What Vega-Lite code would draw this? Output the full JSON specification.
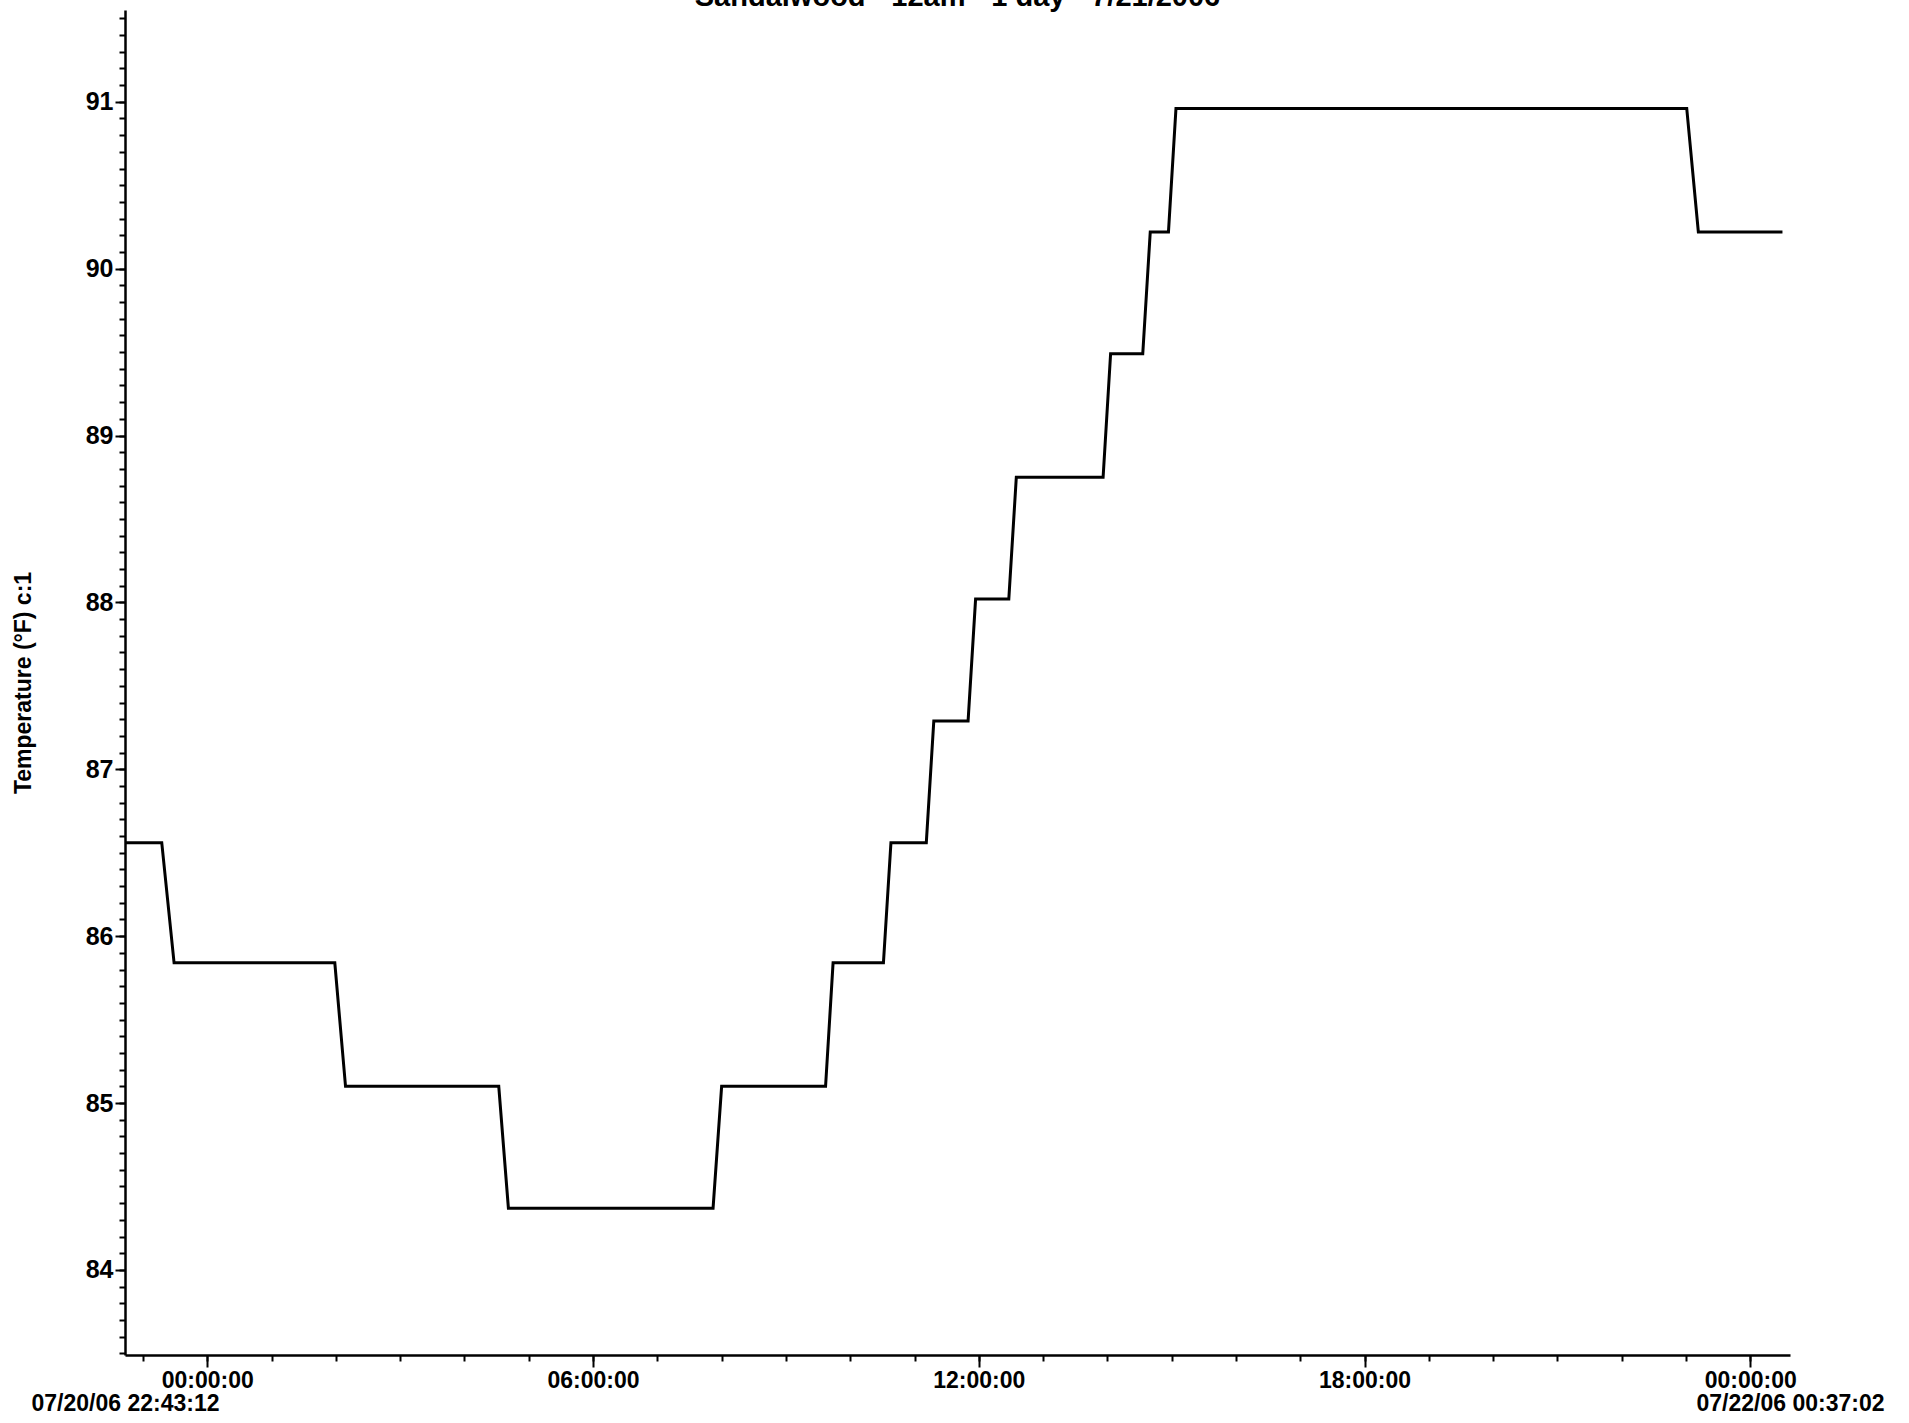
{
  "$schema": "https://vega.github.io/schema/vega-lite/v6.json",
  "width": 1665,
  "height": 1345,
  "autosize": {"type": "none"},
  "padding": {"left": 125, "top": 10, "right": 119, "bottom": 68},
  "background": "white",
  "title": {
    "text": "Sandalwood - 12am - 1 day - 7/21/2006",
    "font": "Liberation Sans",
    "fontSize": 29,
    "fontWeight": "bold",
    "color": "black",
    "anchor": "middle",
    "offset": -2
  },
  "data": {
    "values": [
      {"time": "2006-07-20T22:43:12", "temp": 86.56},
      {"time": "2006-07-20T23:17:30", "temp": 86.56},
      {"time": "2006-07-20T23:29:00", "temp": 85.84},
      {"time": "2006-07-21T01:59:00", "temp": 85.84},
      {"time": "2006-07-21T02:09:00", "temp": 85.10},
      {"time": "2006-07-21T04:32:00", "temp": 85.10},
      {"time": "2006-07-21T04:41:00", "temp": 84.37},
      {"time": "2006-07-21T07:52:00", "temp": 84.37},
      {"time": "2006-07-21T08:00:00", "temp": 85.10},
      {"time": "2006-07-21T09:37:00", "temp": 85.10},
      {"time": "2006-07-21T09:44:00", "temp": 85.84},
      {"time": "2006-07-21T10:31:00", "temp": 85.84},
      {"time": "2006-07-21T10:38:00", "temp": 86.56},
      {"time": "2006-07-21T11:11:00", "temp": 86.56},
      {"time": "2006-07-21T11:18:00", "temp": 87.29},
      {"time": "2006-07-21T11:50:00", "temp": 87.29},
      {"time": "2006-07-21T11:57:00", "temp": 88.02},
      {"time": "2006-07-21T12:28:00", "temp": 88.02},
      {"time": "2006-07-21T12:35:00", "temp": 88.75},
      {"time": "2006-07-21T13:56:00", "temp": 88.75},
      {"time": "2006-07-21T14:03:00", "temp": 89.49},
      {"time": "2006-07-21T14:33:00", "temp": 89.49},
      {"time": "2006-07-21T14:40:00", "temp": 90.22},
      {"time": "2006-07-21T14:57:00", "temp": 90.22},
      {"time": "2006-07-21T15:04:00", "temp": 90.96},
      {"time": "2006-07-21T23:00:40", "temp": 90.96},
      {"time": "2006-07-21T23:11:30", "temp": 90.22},
      {"time": "2006-07-22T00:30:00", "temp": 90.22}
    ]
  },
  "layer": [
    {
      "mark": {"type": "line", "color": "black", "strokeWidth": 3, "strokeJoin": "miter"},
      "encoding": {
        "x": {
          "field": "time", "type": "temporal",
          "scale": {"domain": [{"year": 2006, "month": 7, "date": 20, "hours": 22, "minutes": 43, "seconds": 12}, {"year": 2006, "month": 7, "date": 22, "hours": 0, "minutes": 37, "seconds": 2}], "nice": false},
          "axis": {
            "orient": "bottom", "title": null, "labels": false, "tickSize": 6, "domain": true,
            "values": [
              {"year": 2006, "month": 7, "date": 20, "hours": 23},
              {"year": 2006, "month": 7, "date": 21, "hours": 0},
              {"year": 2006, "month": 7, "date": 21, "hours": 1},
              {"year": 2006, "month": 7, "date": 21, "hours": 2},
              {"year": 2006, "month": 7, "date": 21, "hours": 3},
              {"year": 2006, "month": 7, "date": 21, "hours": 4},
              {"year": 2006, "month": 7, "date": 21, "hours": 5},
              {"year": 2006, "month": 7, "date": 21, "hours": 6},
              {"year": 2006, "month": 7, "date": 21, "hours": 7},
              {"year": 2006, "month": 7, "date": 21, "hours": 8},
              {"year": 2006, "month": 7, "date": 21, "hours": 9},
              {"year": 2006, "month": 7, "date": 21, "hours": 10},
              {"year": 2006, "month": 7, "date": 21, "hours": 11},
              {"year": 2006, "month": 7, "date": 21, "hours": 12},
              {"year": 2006, "month": 7, "date": 21, "hours": 13},
              {"year": 2006, "month": 7, "date": 21, "hours": 14},
              {"year": 2006, "month": 7, "date": 21, "hours": 15},
              {"year": 2006, "month": 7, "date": 21, "hours": 16},
              {"year": 2006, "month": 7, "date": 21, "hours": 17},
              {"year": 2006, "month": 7, "date": 21, "hours": 18},
              {"year": 2006, "month": 7, "date": 21, "hours": 19},
              {"year": 2006, "month": 7, "date": 21, "hours": 20},
              {"year": 2006, "month": 7, "date": 21, "hours": 21},
              {"year": 2006, "month": 7, "date": 21, "hours": 22},
              {"year": 2006, "month": 7, "date": 21, "hours": 23},
              {"year": 2006, "month": 7, "date": 22, "hours": 0}
            ]
          }
        },
        "y": {
          "field": "temp", "type": "quantitative",
          "scale": {"domain": [83.49, 91.55], "nice": false, "zero": false},
          "axis": {
            "orient": "left", "title": null, "labels": false, "tickSize": 6, "domain": true,
            "values": [83.5, 83.6, 83.7, 83.8, 83.9, 84.0, 84.1, 84.2, 84.3, 84.4, 84.5, 84.6, 84.7, 84.8, 84.9, 85.0, 85.1, 85.2, 85.3, 85.4, 85.5, 85.6, 85.7, 85.8, 85.9, 86.0, 86.1, 86.2, 86.3, 86.4, 86.5, 86.6, 86.7, 86.8, 86.9, 87.0, 87.1, 87.2, 87.3, 87.4, 87.5, 87.6, 87.7, 87.8, 87.9, 88.0, 88.1, 88.2, 88.3, 88.4, 88.5, 88.6, 88.7, 88.8, 88.9, 89.0, 89.1, 89.2, 89.3, 89.4, 89.5, 89.6, 89.7, 89.8, 89.9, 90.0, 90.1, 90.2, 90.3, 90.4, 90.5, 90.6, 90.7, 90.8, 90.9, 91.0, 91.1, 91.2, 91.3, 91.4, 91.5]
          }
        }
      }
    },
    {
      "mark": {"type": "line", "opacity": 0},
      "encoding": {
        "x": {
          "field": "time", "type": "temporal",
          "axis": {
            "orient": "bottom", "title": null, "tickSize": 12, "domain": false, "labelPadding": 2, "format": "%H:%M:%S",
            "values": [
              {"year": 2006, "month": 7, "date": 21, "hours": 0},
              {"year": 2006, "month": 7, "date": 21, "hours": 6},
              {"year": 2006, "month": 7, "date": 21, "hours": 12},
              {"year": 2006, "month": 7, "date": 21, "hours": 18},
              {"year": 2006, "month": 7, "date": 22, "hours": 0}
            ]
          }
        },
        "y": {
          "field": "temp", "type": "quantitative",
          "axis": {
            "orient": "left", "title": "Temperature (°F) c:1", "titlePadding": 50, "tickSize": 10, "domain": false, "labelPadding": 2, "labelFontSize": 25,
            "values": [84, 85, 86, 87, 88, 89, 90, 91]
          }
        }
      }
    },
    {
      "mark": {"type": "line", "opacity": 0},
      "encoding": {
        "x": {
          "field": "time", "type": "temporal",
          "axis": {
            "orient": "bottom", "title": null, "ticks": false, "tickSize": 0, "domain": false, "labelPadding": 37, "labelLimit": 400, "format": "%m/%d/%y %H:%M:%S",
            "values": [
              {"year": 2006, "month": 7, "date": 20, "hours": 22, "minutes": 43, "seconds": 12},
              {"year": 2006, "month": 7, "date": 22, "hours": 0, "minutes": 37, "seconds": 2}
            ]
          }
        },
        "y": {"field": "temp", "type": "quantitative", "axis": null}
      }
    }
  ],
  "resolve": {"axis": {"x": "independent", "y": "independent"}},
  "config": {
    "view": {"stroke": null},
    "axis": {
      "grid": false,
      "domainColor": "black",
      "domainWidth": 2.5,
      "tickColor": "black",
      "tickWidth": 2,
      "labelColor": "black",
      "titleColor": "black",
      "labelFont": "Liberation Sans",
      "titleFont": "Liberation Sans",
      "labelFontWeight": "bold",
      "titleFontWeight": "bold",
      "labelFontSize": 23,
      "titleFontSize": 23,
      "labelLimit": 400,
      "labelFlush": false,
      "labelOverlap": false,
      "labelBound": false
    }
  }
}
